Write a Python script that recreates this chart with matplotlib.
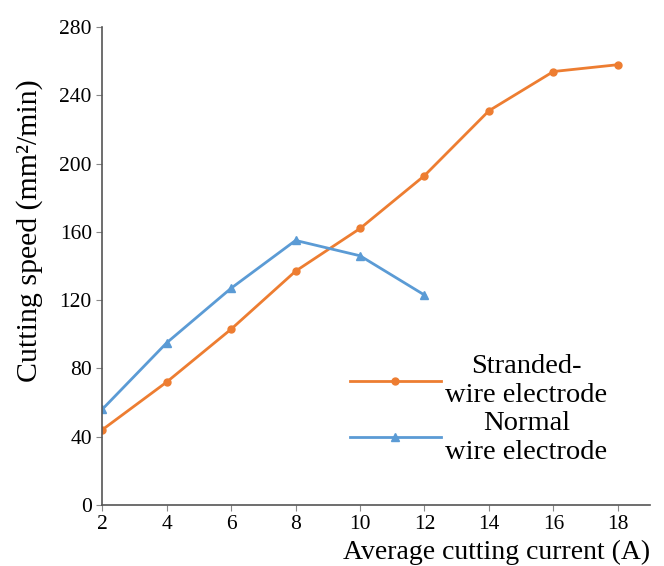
import matplotlib.pyplot as plt

plt.rcParams["font.family"] = ["Liberation Serif", "DejaVu Serif"]

current = [2, 4, 6, 8, 10, 12, 14, 16, 18]
stranded_speed = [44, 72, 103, 137, 162, 193, 231, 254, 258]
normal_current = [2, 4, 6, 8, 10, 12]
normal_speed = [56, 95, 127, 155, 146, 123]

x_ticks = [2, 4, 6, 8, 10, 12, 14, 16, 18]
y_ticks = [0, 40, 80, 120, 160, 200, 240, 280]

fig = plt.figure(figsize=(6.64, 5.66), dpi=100)
ax = fig.add_axes([0.154, 0.108, 0.825, 0.844])

ax.plot(current, stranded_speed, color="#ED7D31", lw=2, marker="o", ms=5,
        label="Stranded-\nwire electrode")
ax.plot(normal_current, normal_speed, color="#5B9BD5", lw=2, marker="^", ms=6,
        label="Normal\nwire electrode")

ax.set_xlim(2, 19)
ax.set_ylim(0, 280)
ax.set_xticks(x_ticks)
ax.set_yticks(y_ticks)
ax.tick_params(labelsize=15.5, direction="out", length=4, color="#888888")
for s in ["top", "right"]:
    ax.spines[s].set_visible(False)
for s in ["left", "bottom"]:
    ax.spines[s].set_color("#555555")
    ax.spines[s].set_linewidth(1.2)

ax.set_ylabel("Cutting speed (mm²/min)", fontsize=21.5)
ax.yaxis.set_label_coords(-0.108, 0.575)
ax.set_xlabel("Average cutting current (A)", fontsize=20, loc="right", labelpad=4)

leg = ax.legend(loc="center left", bbox_to_anchor=(0.405, 0.2), frameon=False,
                fontsize=20.5, handlelength=3.2, handletextpad=0.15,
                labelspacing=0.1)
for t in leg.get_texts():
    t.set_multialignment("center")

fig.savefig("out.png", dpi=100)
